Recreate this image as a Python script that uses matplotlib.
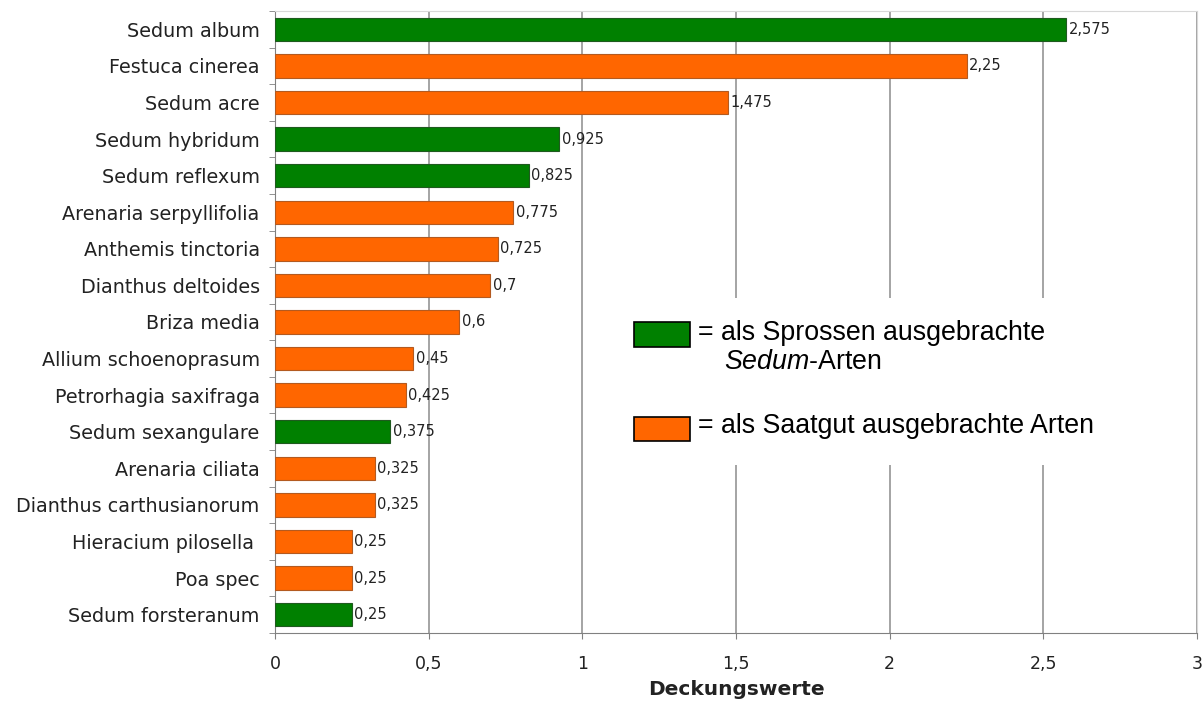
import numpy as np
import matplotlib
matplotlib.use('agg')
import matplotlib.pyplot as plt
from matplotlib.patches import Rectangle

# species and cover values (top to bottom)
species = ['Sedum album', 'Festuca cinerea', 'Sedum acre', 'Sedum hybridum',
           'Sedum reflexum', 'Arenaria serpyllifolia', 'Anthemis tinctoria',
           'Dianthus deltoides', 'Briza media', 'Allium schoenoprasum',
           'Petrorhagia saxifraga', 'Sedum sexangulare', 'Arenaria ciliata',
           'Dianthus carthusianorum', 'Hieracium pilosella ', 'Poa spec',
           'Sedum forsteranum']
values = [2.575, 2.25, 1.475, 0.925, 0.825, 0.775, 0.725, 0.7, 0.6, 0.45,
          0.425, 0.375, 0.325, 0.325, 0.25, 0.25, 0.25]
# 'S' = planted as shoots, 'G' = sown as seed
group = ['S', 'G', 'G', 'S', 'S', 'G', 'G', 'G', 'G', 'G',
         'G', 'S', 'G', 'G', 'G', 'G', 'S']
xticks = [0, 0.5, 1, 1.5, 2, 2.5, 3]
xticklabels = ['0', '0,5', '1', '1,5', '2', '2,5', '3']

green = '#008000'
orange = '#ff6600'
colors = [green if g == 'S' else orange for g in group]
edges = ['#1f5a1f' if g == 'S' else '#b35a20' for g in group]

plt.rcParams['mathtext.fontset'] = 'custom'
plt.rcParams['mathtext.it'] = 'Liberation Sans:italic'
plt.rcParams['mathtext.rm'] = 'Liberation Sans'

fig = plt.figure(figsize=(12.04, 7.04), dpi=100)
ax = fig.add_axes([0.2284, 0.1009, 0.7658, 0.8835])

n = len(species)
y = np.arange(n)
ax.barh(y, values, height=0.64, color=colors, edgecolor=edges, linewidth=0.8, zorder=3)
ax.set_ylim(n - 0.5, -0.5)
ax.set_xlim(0, 3)

for yi, v in zip(y, values):
    lab = ('%g' % v).replace('.', ',')
    ax.text(v + 0.008, yi, lab, va='center', ha='left', fontsize=10.5,
            color='#222222', family='DejaVu Sans', zorder=4)

ax.set_yticks(y)
ax.set_yticklabels(species, fontsize=13.8, color='#222222')
ax.set_yticks(np.arange(n + 1) - 0.5, minor=True)
ax.tick_params(axis='y', which='major', length=0, pad=11)
ax.tick_params(axis='y', which='minor', length=4, color='#808080', direction='out')

ax.set_xticks(xticks)
ax.set_xticklabels(xticklabels, fontsize=12.5, color='#222222')
ax.tick_params(axis='x', length=4, color='#808080', pad=12)
ax.grid(axis='x', color='#8c8c8c', linewidth=1.1, zorder=0)
ax.set_axisbelow(True)

ax.spines['left'].set_color('#808080')
ax.spines['bottom'].set_color('#808080')
ax.spines['top'].set_color('#d8d8d8')
ax.spines['right'].set_color('#d8d8d8')

ax.set_xlabel('Deckungswerte', fontsize=14.5, fontweight='bold', labelpad=5, color='#222222')

# legend box drawn on top of the grid
tr = ax.transAxes
ax.add_patch(Rectangle((0.3525, 0.27), 0.64, 0.269, transform=tr,
                       facecolor='white', edgecolor='none', zorder=5))
ax.add_patch(Rectangle((0.389, 0.46), 0.061, 0.04, transform=tr,
                       facecolor=green, edgecolor='black', linewidth=1.2, zorder=6))
ax.add_patch(Rectangle((0.389, 0.309), 0.061, 0.038, transform=tr,
                       facecolor=orange, edgecolor='black', linewidth=1.2, zorder=6))
lkw = dict(transform=tr, fontsize=19.3, family='Liberation Sans', va='center',
           ha='left', zorder=7)
ax.text(0.459, 0.482, '= als Sprossen ausgebrachte', **lkw)
ax.text(0.4865, 0.4357, r'$\mathit{Sedum}$-Arten', **lkw)
ax.text(0.459, 0.332, '= als Saatgut ausgebrachte Arten', **lkw)

plt.savefig('out.png', dpi=100)
